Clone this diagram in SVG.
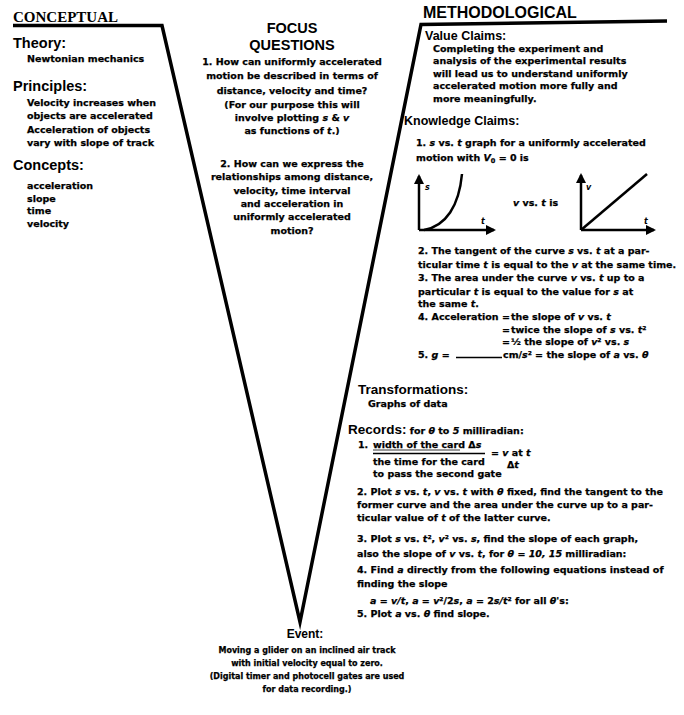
<svg xmlns="http://www.w3.org/2000/svg" width="684" height="715" viewBox="0 0 684 715">
<style>
.b{font-family:"DejaVu Sans",sans-serif;font-weight:bold;font-size:9.5px;fill:#000;stroke:#000;stroke-width:0.25}
.e{font-family:"DejaVu Sans",sans-serif;font-weight:bold;font-size:8px;fill:#000;stroke:#000;stroke-width:0.25}
.i{font-style:italic}
.ttl{font-family:"Liberation Serif","Times New Roman",serif;font-weight:bold;font-size:15px;fill:#000}
.ttr{font-family:"Liberation Sans",Arial,sans-serif;font-weight:bold;font-size:16px;fill:#000}
.hL{font-family:"Liberation Sans",Arial,sans-serif;font-weight:bold;font-size:14.5px;fill:#000}
.hR{font-family:"Liberation Sans",Arial,sans-serif;font-weight:bold;font-size:12.5px;fill:#000}
.hM{font-family:"Liberation Sans",Arial,sans-serif;font-weight:bold;font-size:13.5px;fill:#000}
.hF{font-family:"Liberation Sans",Arial,sans-serif;font-weight:bold;font-size:14.5px;fill:#000}
.hE{font-family:"Liberation Sans",Arial,sans-serif;font-weight:bold;font-size:12px;fill:#000}
.lbl{font-family:"DejaVu Sans",sans-serif;font-weight:bold;font-style:italic;font-size:8px;fill:#000}
.ax{fill:none;stroke:#000;stroke-width:2.5}
.frame{fill:none;stroke:#000;stroke-width:3.5;stroke-linejoin:miter;stroke-miterlimit:10}
.rule{stroke:#000;stroke-width:1.5}
.c{text-anchor:middle}
</style>
<defs>
<marker id="ah" viewBox="0 0 10 10" refX="8" refY="5" markerWidth="4" markerHeight="4" orient="auto" markerUnits="strokeWidth">
<path d="M0,0 L10,5 L0,10 z" fill="#000"/>
</marker>
</defs>
<rect width="684" height="715" fill="#fff"/>

<g id="connectors">
<path class="frame" d="M13,25.5 L162,25.5 L300,622 L421,24.5 L667,21"/>
</g>

<g id="conceptual">
<text class="ttl" x="13" y="22">CONCEPTUAL</text>
<text class="hL" x="13" y="48">Theory:</text>
<text class="b" x="27" y="61.5">Newtonian mechanics</text>
<text class="hL" x="13" y="91">Principles:</text>
<text class="b" x="27" y="106">Velocity increases when</text>
<text class="b" x="27" y="119">objects are accelerated</text>
<text class="b" x="27" y="133">Acceleration of objects</text>
<text class="b" x="27" y="146">vary with slope of track</text>
<text class="hL" x="13" y="170">Concepts:</text>
<text class="b" x="27" y="189">acceleration</text>
<text class="b" x="27" y="202">slope</text>
<text class="b" x="27" y="214">time</text>
<text class="b" x="27" y="226.5">velocity</text>
</g>

<g id="focus-questions">
<text class="hF c" x="292" y="33">FOCUS</text>
<text class="hF c" x="292" y="50">QUESTIONS</text>
<text class="b c" x="292" y="65">1. How can uniformly accelerated</text>
<text class="b c" x="292" y="79">motion be described in terms of</text>
<text class="b c" x="292" y="94">distance, velocity and time?</text>
<text class="b c" x="292" y="107.5">(For our purpose this will</text>
<text class="b c" x="292" y="121">involve plotting <tspan class="i">s</tspan> &amp; <tspan class="i">v</tspan></text>
<text class="b c" x="292" y="134">as functions of <tspan class="i">t</tspan>.)</text>
<text class="b c" x="292" y="166.5">2. How can we express the</text>
<text class="b c" x="292" y="180">relationships among distance,</text>
<text class="b c" x="292" y="194">velocity, time interval</text>
<text class="b c" x="292" y="207">and acceleration in</text>
<text class="b c" x="292" y="220">uniformly accelerated</text>
<text class="b c" x="292" y="234">motion?</text>
</g>

<g id="methodological">
<text class="ttr" x="423" y="18">METHODOLOGICAL</text>
</g>

<g id="value-claims">
<text class="hR" x="425" y="40">Value Claims:</text>
<text class="b" x="433" y="51.5">Completing the experiment and</text>
<text class="b" x="433" y="64">analysis of the experimental results</text>
<text class="b" x="433" y="76.5">will lead us to understand uniformly</text>
<text class="b" x="433" y="89">accelerated motion more fully and</text>
<text class="b" x="433" y="101.5">more meaningfully.</text>
</g>

<g id="knowledge-claims">
<text class="hR" x="404" y="125">Knowledge Claims:</text>
<text class="b" x="416" y="146">1. <tspan class="i">s</tspan> vs. <tspan class="i">t</tspan> graph for a uniformly accelerated</text>
<text class="b" x="416" y="161">motion with <tspan class="i">V</tspan><tspan font-size="6.5" dy="2">0</tspan><tspan dy="-2"> = 0 is</tspan></text>
<g id="graph-s-t">
<path class="ax" d="M419,230 L419,176" marker-end="url(#ah)"/>
<path class="ax" d="M419,230 L494,230" marker-end="url(#ah)"/>
<path class="ax" d="M424,230 C446,226 459,206 462,174"/>
<text class="lbl" x="425" y="190">s</text>
<text class="lbl" x="481" y="224">t</text>
</g>
<text class="b" x="513" y="206" font-size="9"><tspan class="i">v</tspan> vs. <tspan class="i">t</tspan> is</text>
<g id="graph-v-t">
<path class="ax" d="M581,230 L581,175" marker-end="url(#ah)"/>
<path class="ax" d="M581,230 L654,230" marker-end="url(#ah)"/>
<path class="ax" d="M581,230 L647,174"/>
<text class="lbl" x="586" y="190">v</text>
<text class="lbl" x="644" y="224">t</text>
</g>
<text class="b" x="418" y="254">2. The tangent of the curve <tspan class="i">s</tspan> vs. <tspan class="i">t</tspan> at a par-</text>
<text class="b" x="418" y="268">ticular time <tspan class="i">t</tspan> is equal to the <tspan class="i">v</tspan> at the same time.</text>
<text class="b" x="418" y="281">3. The area under the curve <tspan class="i">v</tspan> vs. <tspan class="i">t</tspan> up to a</text>
<text class="b" x="418" y="295">particular <tspan class="i">t</tspan> is equal to the value for <tspan class="i">s</tspan> at</text>
<text class="b" x="418" y="306.5">the same <tspan class="i">t</tspan>.</text>
<text class="b" x="418" y="320">4. Acceleration</text>
<text class="b" x="502" y="320">=</text>
<text class="b" x="511" y="320">the slope of <tspan class="i">v</tspan> vs. <tspan class="i">t</tspan></text>
<text class="b" x="502" y="332.5">=</text>
<text class="b" x="511" y="332.5">twice the slope of <tspan class="i">s</tspan> vs. <tspan class="i">t</tspan>²</text>
<text class="b" x="502" y="345">=</text>
<text class="b" x="511" y="345">½ the slope of <tspan class="i">v</tspan>² vs. <tspan class="i">s</tspan></text>
<text class="b" x="418" y="358">5. <tspan class="i">g</tspan> =</text>
<line class="rule" x1="456" y1="357.5" x2="502" y2="357.5"/>
<text class="b" x="503" y="358">cm/<tspan class="i">s</tspan>² = the slope of <tspan class="i">a</tspan> vs. <tspan class="i">θ</tspan></text>
</g>

<g id="transformations">
<text class="hM" x="358" y="394">Transformations:</text>
<text class="b" x="368" y="407">Graphs of data</text>
</g>

<g id="records">
<text x="348" y="434"><tspan class="hM">Records:</tspan><tspan class="b"> for <tspan class="i">θ</tspan> to <tspan class="i">5</tspan> milliradian:</tspan></text>
<text class="b" x="358" y="448">1.</text>
<text class="b" x="373" y="448">width of the card Δ<tspan class="i">s</tspan></text>
<line x1="373" y1="450" x2="460" y2="450" stroke="#000" stroke-width="0.8"/>
<line class="rule" x1="373" y1="453.5" x2="485" y2="453.5"/>
<text class="b" x="491" y="456">= <tspan class="i">v</tspan> at <tspan class="i">t</tspan></text>
<text class="b" x="507" y="468">Δ<tspan class="i">t</tspan></text>
<text class="b" x="373" y="465">the time for the card</text>
<text class="b" x="373" y="477">to pass the second gate</text>
<text class="b" x="357" y="495">2. Plot <tspan class="i">s</tspan> vs. <tspan class="i">t</tspan>, <tspan class="i">v</tspan> vs. <tspan class="i">t</tspan> with <tspan class="i">θ</tspan> fixed, find the tangent to the</text>
<text class="b" x="357" y="508">former curve and the area under the curve up to a par-</text>
<text class="b" x="357" y="520.5">ticular value of <tspan class="i">t</tspan> of the latter curve.</text>
<text class="b" x="357" y="541.5">3. Plot <tspan class="i">s</tspan> vs. <tspan class="i">t</tspan>², <tspan class="i">v</tspan>² vs. <tspan class="i">s</tspan>, find the slope of each graph,</text>
<text class="b" x="357" y="556.5">also the slope of <tspan class="i">v</tspan> vs. <tspan class="i">t</tspan>, for <tspan class="i">θ</tspan> = <tspan class="i">10, 15</tspan> milliradian:</text>
<text class="b" x="357" y="573">4. Find <tspan class="i">a</tspan> directly from the following equations instead of</text>
<text class="b" x="357" y="586.5">finding the slope</text>
<text class="b" x="370" y="603.5"><tspan class="i">a</tspan> = <tspan class="i">v/t</tspan>, <tspan class="i">a</tspan> = <tspan class="i">v</tspan>²/2<tspan class="i">s</tspan>, <tspan class="i">a</tspan> = 2<tspan class="i">s/t</tspan>² for all <tspan class="i">θ</tspan>'s:</text>
<text class="b" x="357" y="616.5">5. Plot <tspan class="i">a</tspan> vs. <tspan class="i">θ</tspan> find slope.</text>
</g>

<g id="event">
<text class="hE c" x="305" y="638">Event:</text>
<text class="e c" x="307" y="653">Moving a glider on an inclined air track</text>
<text class="e c" x="307" y="666">with initial velocity equal to zero.</text>
<text class="e c" x="307" y="679">(Digital timer and photocell gates are used</text>
<text class="e c" x="307" y="692">for data recording.)</text>
</g>
</svg>
